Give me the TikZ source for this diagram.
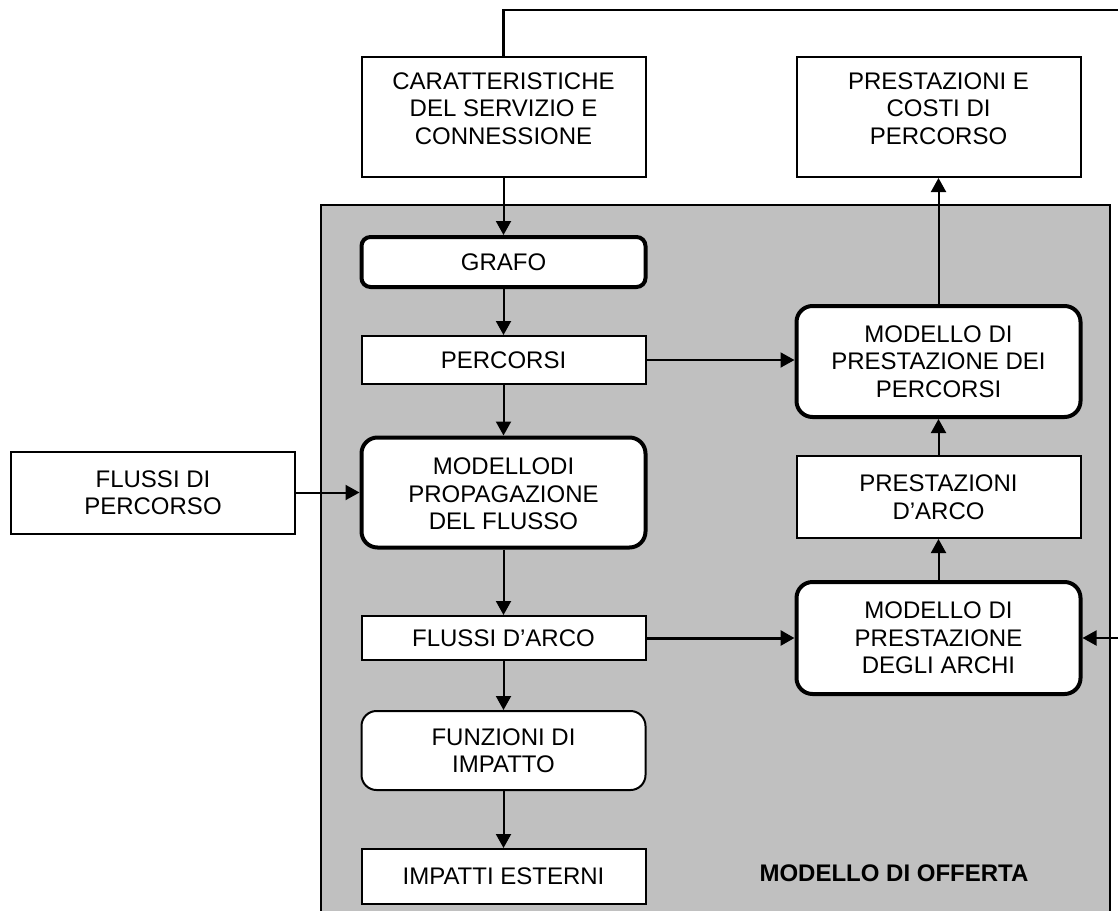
\documentclass[tikz,border=0pt]{standalone}
\usepackage{fontspec}
\setmainfont{Liberation Sans}
\usetikzlibrary{arrows.meta}
\definecolor{panelgray}{HTML}{C0C0C0}
\newcommand{\liftlines}[2]{\raisebox{#1}[\height][\depth]{\begin{tabular}{@{}c@{}}#2\end{tabular}}}
\tikzset{
  txt/.style={font=\fontsize{24}{27.5}\selectfont, align=center, inner sep=0pt},
  plainbox/.style={txt, draw=black, line width=2pt, fill=white, rectangle, minimum width=284pt},
  thickround/.style={txt, draw=black, line width=4pt, fill=white, rectangle, rounded corners=16pt, minimum width=284pt},
  thinround/.style={txt, draw=black, line width=2pt, fill=white, rectangle, rounded corners=15pt, minimum width=284pt},
  conn/.style={draw=black, line width=2pt, -{Triangle[length=14pt,width=15pt]}},
  connthick/.style={draw=black, line width=3pt, -{Triangle[length=14pt,width=15pt]}},
  plainline/.style={draw=black, line width=2.5pt}
}
\begin{document}
\begin{tikzpicture}[x=1pt,y=-1pt]
\useasboundingbox (0,0) rectangle (1118,910);
% panel
\fill[panelgray] (321,205) rectangle (1110,912);
\draw[line width=2pt] (321,912) -- (321,205) -- (1110,205) -- (1110,912);
% nodes
\node[plainbox, minimum height=120pt] (car) at (503.5,117) {\liftlines{6pt}{CARATTERISTICHE\\DEL SERVIZIO E\\CONNESSIONE}};
\node[plainbox, minimum height=120pt] (pc) at (938.5,117) {\liftlines{6pt}{PRESTAZIONI E\\COSTI DI\\PERCORSO}};
\node[thickround, minimum height=50pt, rounded corners=9pt] (grafo) at (503.5,262) {GRAFO};
\node[plainbox, minimum height=48pt] (perc) at (503.5,360) {PERCORSI};
\node[thickround, minimum height=110pt] (mprop) at (503.5,492.5) {\liftlines{-4pt}{MODELLODI\\PROPAGAZIONE\\DEL FLUSSO}};
\node[plainbox, minimum height=82pt] (fdp) at (153,492.5) {FLUSSI DI\\PERCORSO};
\node[plainbox, minimum height=44pt] (fda) at (503.5,638) {FLUSSI D’ARCO};
\node[thinround, minimum height=79pt] (fimp) at (503.5,750.5) {FUNZIONI DI\\IMPATTO};
\node[plainbox, minimum height=55pt] (imp) at (503.5,876.5) {IMPATTI ESTERNI};
\node[thickround, minimum height=111pt] (mpp) at (938.5,361.5) {MODELLO DI\\PRESTAZIONE DEI\\PERCORSI};
\node[plainbox, minimum height=82pt] (pda) at (938.5,497) {PRESTAZIONI\\D’ARCO};
\node[thickround, minimum height=112pt] (mpa) at (938.5,638) {MODELLO DI\\PRESTAZIONE\\DEGLI ARCHI};
\node[txt, font=\fontsize{24}{27.5}\selectfont\bfseries] (offerta) at (894,873) {MODELLO DI OFFERTA};
% feedback loop ends
\coordinate (fbA) at (1120,10);
\coordinate (fbB) at (1120,638);
\draw[plainline] (car.north) |- (fbA);
\draw[conn] (fbB) -- (mpa.east);
% connectors
\draw[conn] (car.south) -- (grafo.north);
\draw[conn] (grafo.south) -- (perc.north);
\draw[conn] (perc.south) -- (mprop.north);
\draw[conn] (mprop.south) -- (fda.north);
\draw[conn] (fda.south) -- (fimp.north);
\draw[conn] (fimp.south) -- (imp.north);
\draw[conn] (fdp.east) -- (fdp.east -| mprop.west);
\draw[conn] (perc.east) -- (perc.east -| mpp.west);
\draw[connthick] (fda.east) -- (mpa.west);
\draw[conn] (mpa.north) -- (pda.south);
\draw[conn] (pda.north) -- (mpp.south);
\draw[conn] (mpp.north) -- (pc.south);
\end{tikzpicture}
\end{document}
